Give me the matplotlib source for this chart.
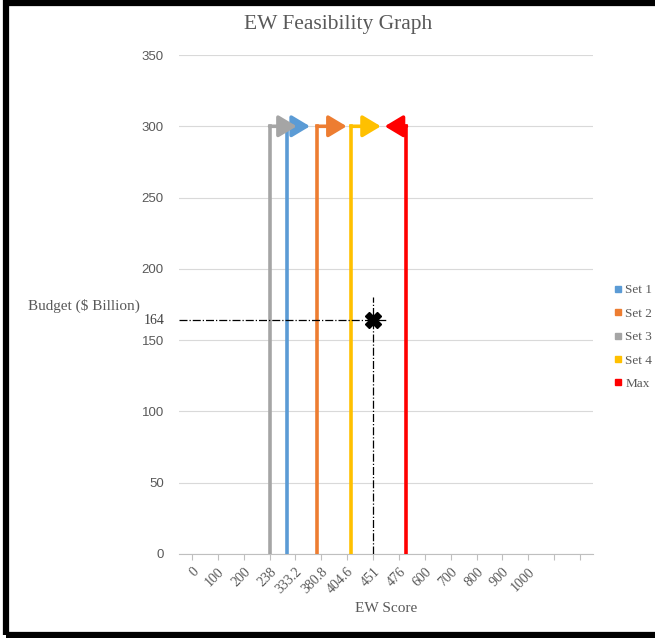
import matplotlib
matplotlib.use('Agg')
import matplotlib.pyplot as plt
from matplotlib.lines import Line2D
from matplotlib.patches import Rectangle

# category axis labels (last two slots are unlabeled)
score_labels = ['0', '100', '200', '238', '333.2', '380.8', '404.6', '451', '476',
                '600', '700', '800', '900', '1000', '', '']
y_ticks = [0, 50, 100, 150, 200, 250, 300, 350]

# feasibility lines: position on the category axis, top value, arrow tip
set_names = ['Set 1', 'Set 2', 'Set 3', 'Set 4', 'Max']
set_colors = ['#5B9BD5', '#ED7D31', '#A5A5A5', '#FFC000', '#FF0000']
set_pos = [3.69, 4.83, 3.0, 6.14, 8.29]
set_top = [300, 300, 300, 300, 300]
arrow_tip = [4.56, 5.98, 4.05, 7.30, 7.45]

# chosen point
budget = 164
budget_cap = 180
point_pos = 7.0

serif = 'Liberation Serif'
sans = 'Liberation Sans'
grey_txt = '#595959'

fig = plt.figure(figsize=(6.55, 6.38), dpi=100)
ax = fig.add_axes([179 / 655, 1 - 554 / 638, (593 - 179) / 655, (554 - 55) / 638])

n = len(score_labels)
ax.set_xlim(-0.5, n - 0.5)
ax.set_ylim(0, 350)

ax.set_yticks(y_ticks)
ax.set_yticklabels([str(v) for v in y_ticks], fontfamily=sans, fontsize=9.5, color=grey_txt)
ax.tick_params(axis='y', length=0, pad=11)
ax.grid(axis='y', color='#D9D9D9', lw=0.8)
ax.set_axisbelow(True)

ax.set_xticks(range(n))
ax.set_xticklabels(score_labels, rotation=45, ha='right', rotation_mode='anchor',
                   fontfamily=serif, fontsize=10, color=grey_txt)
ax.tick_params(axis='x', length=4, color='#BFBFBF', pad=4)

for s in ['top', 'right', 'left']:
    ax.spines[s].set_visible(False)
ax.spines['bottom'].set_color('#BFBFBF')

# vertical lines with elbow arrows at the top
order = [0, 2, 1, 3, 4]
for i in order:
    c = set_colors[i]
    x = set_pos[i]
    top = set_top[i]
    ax.plot([x, x], [0, top], color=c, lw=2.6, solid_capstyle='projecting', zorder=3 + i)
    ax.annotate('', xy=(arrow_tip[i], top), xytext=(x, top),
                arrowprops=dict(arrowstyle='-|>,head_length=0.55,head_width=0.33',
                                color=c, lw=2.6, mutation_scale=20,
                                shrinkA=0, shrinkB=0), zorder=3 + i)

# dash-dot guides to the selected point
ax.plot([-0.5, 7.53], [budget, budget], color='black', lw=0.9, ls='-.', zorder=9)
ax.plot([point_pos, point_pos], [0, budget_cap], color='black', lw=0.9, ls='-.', zorder=9)
ax.plot([point_pos], [budget], marker='X', ms=12, color='black', zorder=10)

ax.text(-1.04, budget, str(budget), ha='right', va='center', fontfamily=serif,
        fontsize=10, color='#404040')

fig.text(28 / 655, 1 - 306 / 638, 'Budget ($ Billion)', ha='left', va='center',
         fontfamily=serif, fontsize=11, color=grey_txt)
fig.text(386 / 655, 1 - 608 / 638, 'EW Score', ha='center', va='center',
         fontfamily=serif, fontsize=11, color=grey_txt)
fig.text(338 / 655, 1 - 24 / 638, 'EW Feasibility Graph', ha='center', va='center',
         fontfamily=serif, fontsize=15.5, color=grey_txt)

handles = [Line2D([], [], marker='s', ls='', color=c, ms=5) for c in set_colors]
fig.legend(handles, set_names, loc='center left', bbox_to_anchor=(606 / 655, 1 - 337 / 638),
           frameon=False, handletextpad=0.05, labelspacing=0.85, borderaxespad=0,
           prop={'family': serif, 'size': 9.5}, labelcolor=grey_txt, handlelength=1)

# heavy frame around the figure
fig.patches.append(Rectangle((6 / 655, 3 / 638), 1.2, 1 - 6 / 638, transform=fig.transFigure,
                             fill=False, ec='black', lw=4.5))

fig.savefig('out.png', dpi=100)
